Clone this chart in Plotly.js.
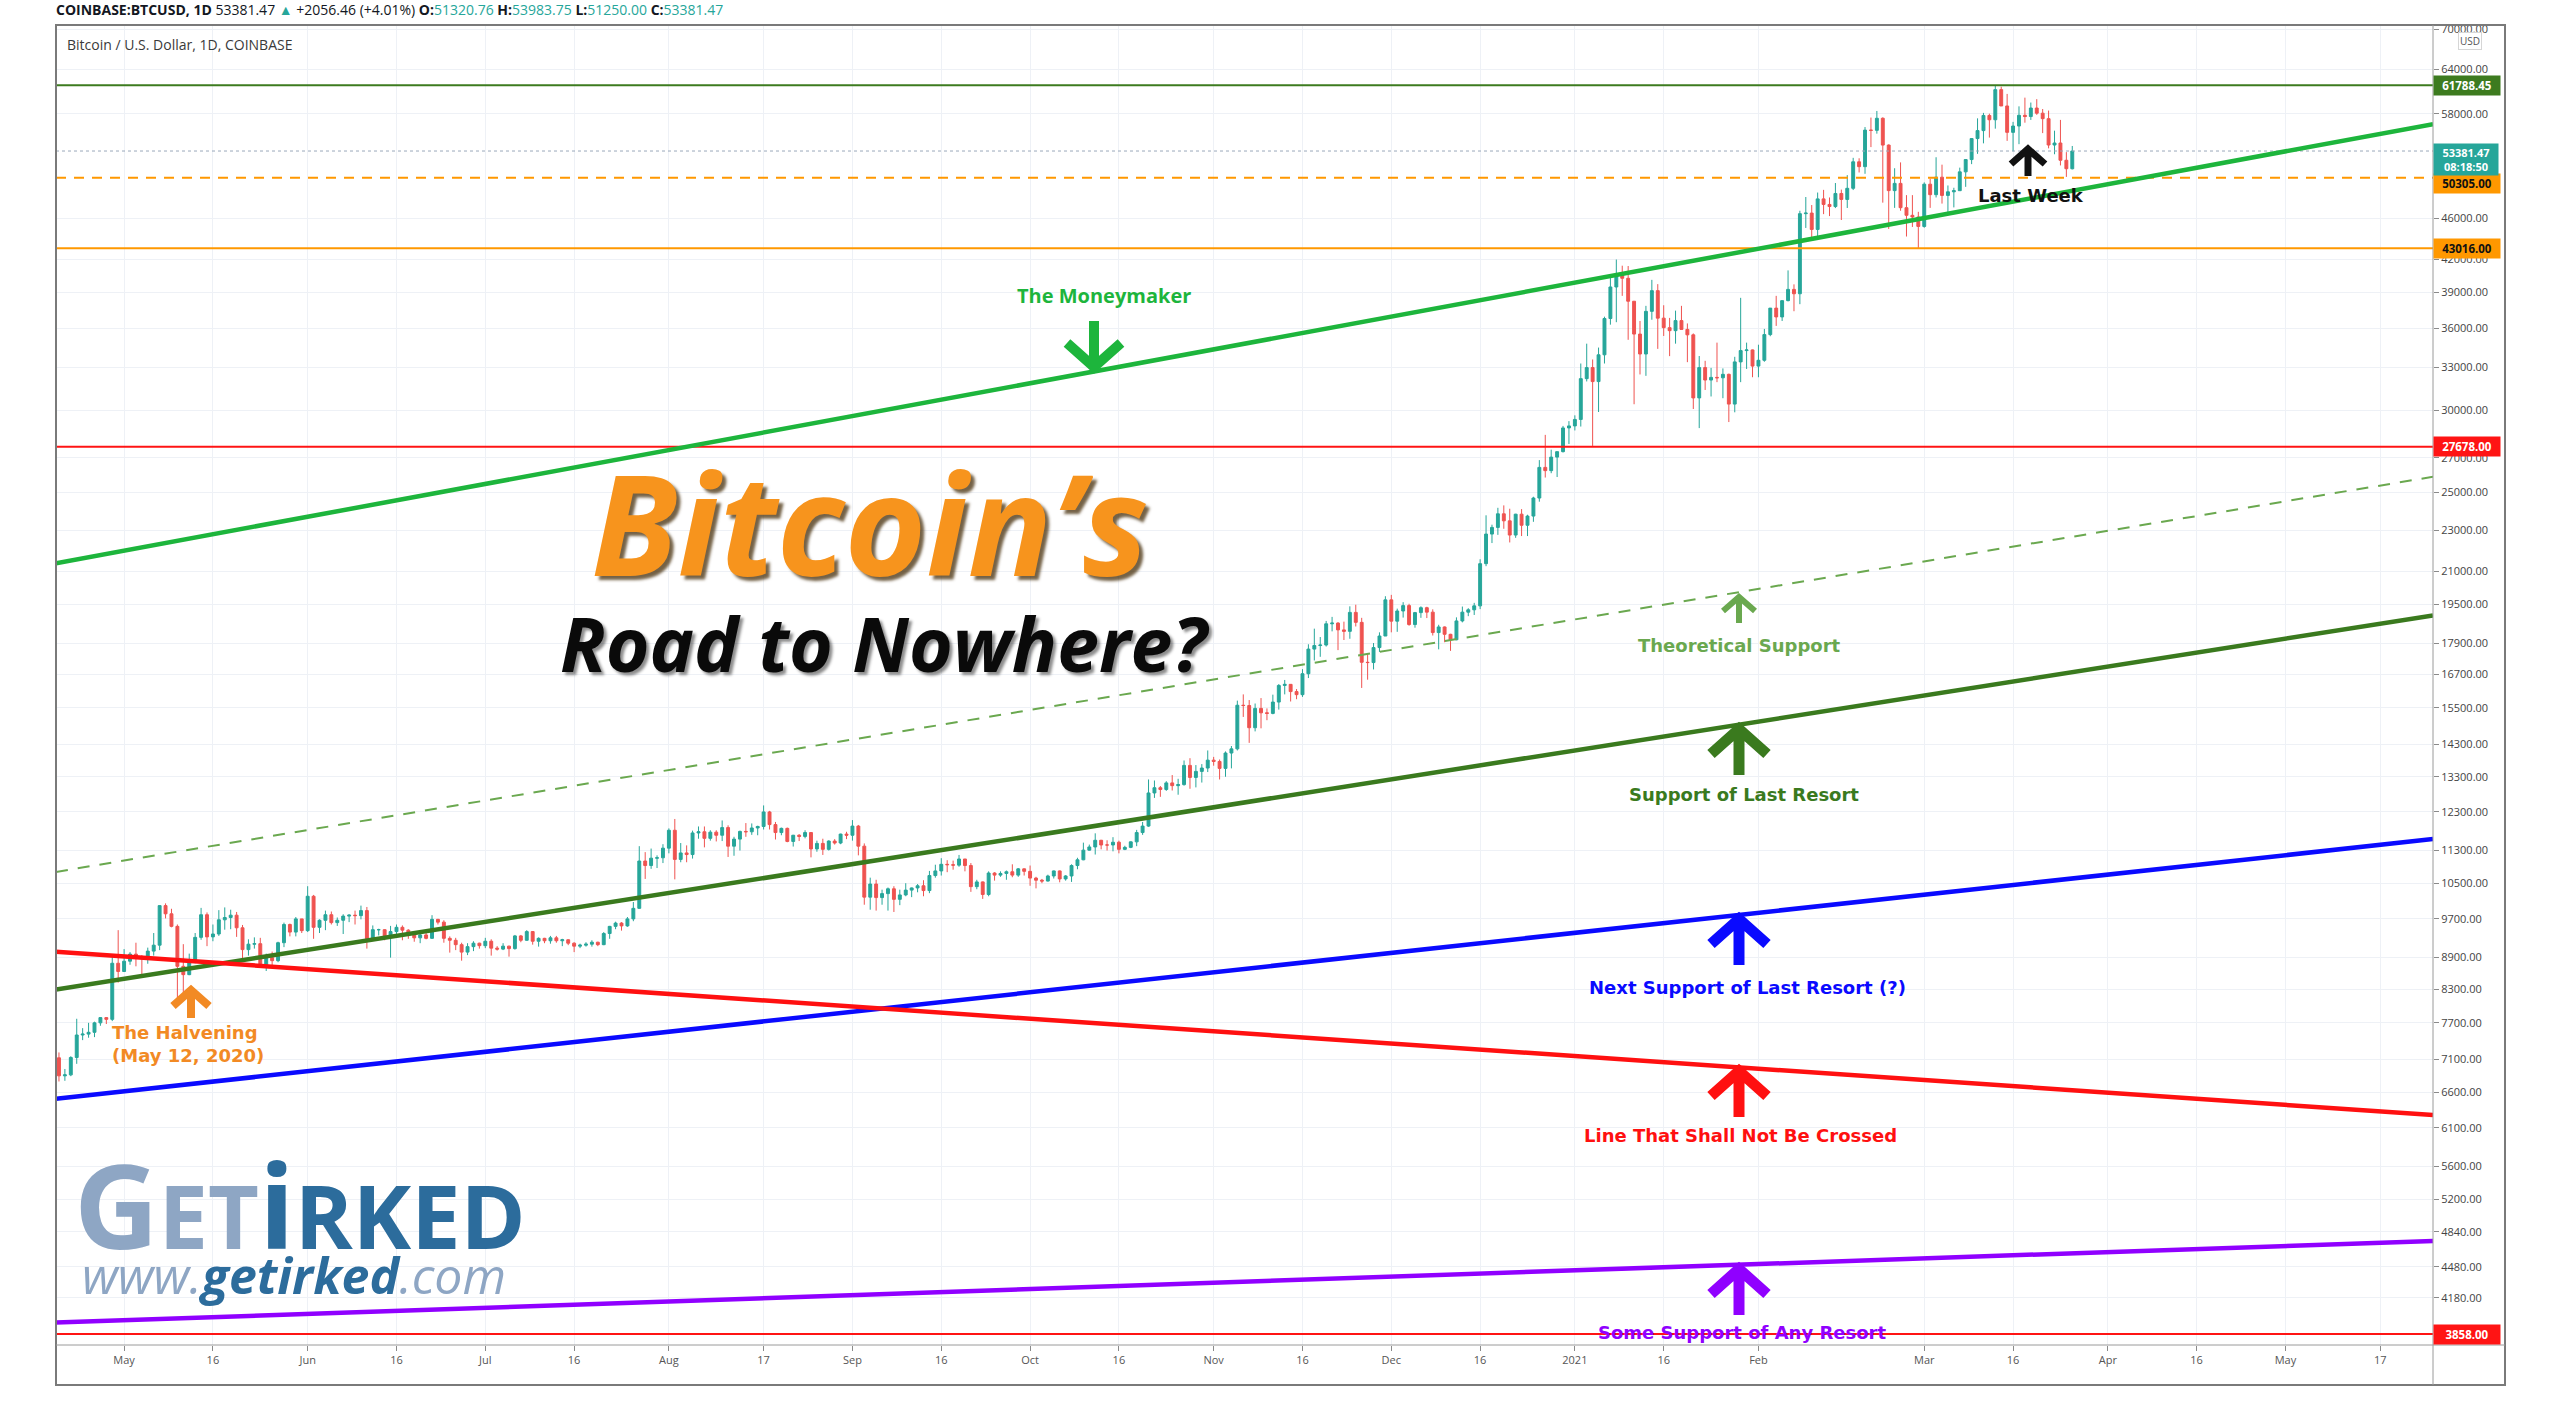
<!DOCTYPE html>
<html>
<head>
<meta charset="utf-8">
<script src="https://cdn.plot.ly/plotly-3.0.1.min.js"></script>
<style>html,body{margin:0;padding:0;background:#fff;overflow:hidden}#chart{width:2560px;height:1409px}</style>
</head>
<body>
<div id="chart"></div>
<script>
// ---------------- DATA ----------------
const firstDay = '2020-04-20';
const opens = [
7125,6845,6860,7130,7495,7510,7540,7700,7790,7760,8790,
8630,8830,8970,8900,8880,9030,9150,9990,9810,9540,8730,8570,8820,9310,9790,9320,9380,9680,9730,9780,9510,9060,9170,9180,8720,8900,8840,9200,9580,9420,9700,
9450,10200,9520,9670,9790,9620,9670,9760,9780,9770,9880,9280,9470,9470,9340,9430,9520,9460,9380,9300,9360,9290,9690,9630,9290,9250,9160,9010,9120,9190,
9140,9230,9090,9070,9130,9080,9340,9250,9430,9230,9290,9240,9300,9240,9260,9190,9130,9150,9170,9210,9160,9390,9540,9610,9550,9700,9930,11030,10920,11100,11110,
11350,11810,11070,11230,11190,11740,11770,11600,11760,11680,11880,11400,11580,11780,11770,11870,11910,12300,11960,11750,11860,11520,11680,11650,11750,11330,11470,11320,11530,11480,11710,
11680,11920,11400,10180,10480,10170,10260,10370,10130,10230,10340,10390,10440,10330,10680,10790,10950,10940,10930,11080,10920,10420,10530,10240,10740,10690,10730,10770,10690,10840,
10780,10620,10570,10550,10670,10790,10600,10670,10920,11060,11300,11380,11550,11430,11430,11500,11320,11370,11510,11750,11920,12830,12980,12930,13120,13040,13070,13640,13280,13460,13560,
13800,13760,13550,14020,14150,15590,15580,14830,15480,15330,15310,15700,16290,16330,16070,15960,16720,17660,17800,17820,18680,18710,18430,18370,19160,18740,17150,17140,17720,18180,
19700,18790,19220,19450,18650,19150,19360,19170,18320,18550,18250,18030,18800,19170,19270,19440,21350,22800,23140,23850,23480,22750,23830,23250,23730,24700,26440,26250,27050,27380,28860,
28990,29410,32200,33000,31990,33950,36800,39470,40630,40240,38240,35550,34010,37390,39150,36830,36060,35820,36630,35920,35490,30850,33000,32100,32290,32260,32510,30430,33420,34270,34320,
33110,33540,35510,37660,36930,38290,39260,38880,46450,46510,44850,48000,47410,47190,48580,47940,49140,52120,51560,55920,55890,57410,54090,48890,49680,47070,46280,46110,
45150,49590,48450,50370,48370,48760,48880,50970,52380,54880,55860,57770,57220,61180,59000,55640,56430,57790,57630,58730,58060,57360,54100,54340,52300,51320.76
];
const highs = [
7210,6950,7150,7770,7610,7700,7720,7800,7800,8950,9460,
9070,9010,9200,8950,9100,9400,9990,10040,9920,9580,9170,8980,9400,9940,9840,9580,9890,9950,9900,9850,9570,9270,9310,9300,8980,9020,9220,9620,9600,9740,9700,
10430,10230,9690,9880,9860,9730,9800,9800,9880,9990,9960,9560,9490,9480,9550,9580,9560,9480,9400,9400,9410,9780,9700,9670,9330,9300,9200,9190,9230,9200,
9300,9270,9130,9190,9140,9360,9360,9460,9440,9310,9300,9340,9340,9280,9270,9210,9180,9210,9250,9220,9420,9550,9640,9630,9740,10070,11400,11250,11340,11170,11450,
11860,12110,11480,11420,11800,11910,11910,11810,11810,12070,11940,11640,11800,12000,11990,11930,12480,12330,12030,11880,11880,11690,11710,11810,11760,11540,11590,11550,11580,11720,11770,
12080,11950,11470,10630,10580,10350,10400,10430,10350,10500,10400,10480,10570,10790,10940,11100,11050,11040,11180,11080,10980,10580,10540,10780,10760,10780,10800,10950,10860,10850,
10920,10650,10600,10700,10800,10800,10690,10950,11110,11490,11440,11730,11560,11550,11630,11540,11410,11520,11820,12030,13220,13190,13030,13170,13350,13240,13790,13860,13650,13680,14100,
13900,13820,14070,14240,15750,15970,15770,15650,15840,15480,15960,16340,16490,16340,16160,16890,17850,18480,18140,18800,18970,18750,18770,19420,19490,18930,17470,17900,18330,19860,
19920,19320,19600,19530,19180,19420,19400,19290,18640,18570,18270,18950,19410,19340,19570,21560,23770,23280,24170,24300,24120,23850,24100,23800,24770,26870,28420,27500,27380,28990,29300,
29680,33300,34800,33600,34500,36950,40370,41950,41380,41350,38240,36600,37850,40100,39720,37900,36850,37450,37850,36400,35600,33860,33500,32980,34880,32940,32560,33800,38530,34880,34350,
34720,35960,37660,38700,38300,40950,39700,46750,48200,47350,48680,48970,48150,49720,49000,50600,52580,52530,56300,57500,58350,57530,54180,51380,52050,48400,48400,46640,
49790,50200,52650,51790,49450,49200,51450,52400,54900,57400,58100,58000,61788.45,61580,60600,56950,58950,60100,59450,59900,58600,58400,55850,57200,53250,53983.75
];
const lows = [
6760,6770,6840,7030,7410,7450,7460,7650,7680,7730,8420,
8620,8760,8730,8540,8780,8940,9050,9710,9520,8120,8200,8560,8790,9260,9130,9230,9340,9470,9480,9320,8820,8940,9080,8700,8640,8700,8810,9110,9330,9330,9400,
9420,9280,9400,9460,9580,9550,9380,9630,9580,9690,9080,9250,9350,9250,8900,9370,9250,9280,9220,9190,9270,9280,9580,9200,9000,9050,8840,8950,9030,9080,
9090,8940,9040,9050,8920,9060,9210,9240,9160,9120,9190,9180,9200,9130,9150,9010,9090,9120,9120,9130,9150,9280,9480,9450,9530,9650,9920,10600,10840,10860,10980,
11220,10590,11000,11000,11090,11590,11370,11540,11520,11530,11130,11160,11290,11640,11690,11680,11830,11830,11570,11680,11500,11390,11530,11600,11120,11260,11180,11290,11440,11450,11580,
11540,11170,10010,9900,9880,10010,9880,9850,10000,10200,10180,10290,10200,10270,10630,10680,10760,10820,10890,10780,10300,10360,10140,10200,10560,10650,10580,10640,10650,10680,
10440,10380,10500,10540,10610,10520,10560,10530,10830,11050,11290,11190,11320,11290,11270,11220,11300,11350,11400,11690,11900,12690,12720,12890,12900,12780,13040,12950,12990,13130,13440,
13630,13220,13300,13550,14100,15190,14340,14710,14810,15080,15280,15440,15970,15720,15800,15880,16560,17220,17360,17760,18370,17620,18020,18070,18570,16200,16500,16880,17550,18180,
18330,18350,18940,18600,18520,18930,18920,18200,17650,17930,17590,18010,18740,19000,19050,19300,21230,22350,22760,23070,22380,22610,22700,22700,23430,24500,25850,26100,25880,27330,27850,
28700,28950,32000,27730,29900,33300,36300,36500,38700,35100,30420,32500,32400,36700,34400,35400,33850,34800,35900,33400,30100,28850,31400,30950,31950,30830,29240,29880,31950,32900,32300,
32300,33430,35380,36200,36600,38230,37400,37990,45000,43750,44000,46400,46200,47030,45800,47040,48950,50900,50750,53850,55480,47600,44900,47050,46750,44150,45100,43000,
45020,47050,48150,47500,46300,47100,48880,49300,51850,53050,54300,55000,56100,59000,54600,53350,54200,56850,57200,57850,55550,53700,53000,51700,50400,51250
];
const closes = [
6845,6860,7130,7495,7510,7540,7700,7790,7760,8790,8630,
8830,8970,8900,8880,9030,9150,9990,9810,9540,8730,8570,8820,9310,9790,9320,9380,9680,9730,9780,9510,9060,9170,9180,8720,8900,8840,9200,9580,9420,9700,9450,
10200,9520,9670,9790,9620,9670,9760,9780,9770,9880,9280,9470,9470,9340,9430,9520,9460,9380,9300,9360,9290,9690,9630,9290,9250,9160,9010,9120,9190,9140,
9230,9090,9070,9130,9080,9340,9250,9430,9230,9290,9240,9300,9240,9260,9190,9130,9150,9170,9210,9160,9390,9540,9610,9550,9700,9930,11030,10920,11100,11110,11350,
11810,11070,11230,11190,11740,11770,11600,11760,11680,11880,11400,11580,11780,11770,11870,11910,12300,11960,11750,11860,11520,11680,11650,11750,11330,11470,11320,11530,11480,11710,11680,
11920,11400,10180,10480,10170,10260,10370,10130,10230,10340,10390,10440,10330,10680,10790,10950,10940,10930,11080,10920,10420,10530,10240,10740,10690,10730,10770,10690,10840,10780,
10620,10570,10550,10670,10790,10600,10670,10920,11060,11300,11380,11550,11430,11430,11500,11320,11370,11510,11750,11920,12830,12980,12930,13120,13040,13070,13640,13280,13460,13560,13800,
13760,13550,14020,14150,15590,15580,14830,15480,15330,15310,15700,16290,16330,16070,15960,16720,17660,17800,17820,18680,18710,18430,18370,19160,18740,17150,17140,17720,18180,19700,
18790,19220,19450,18650,19150,19360,19170,18320,18550,18250,18030,18800,19170,19270,19440,21350,22800,23140,23850,23480,22750,23830,23250,23730,24700,26440,26250,27050,27380,28860,28990,
29410,32200,33000,31990,33950,36800,39470,40630,40240,38240,35550,34010,37390,39150,36830,36060,35820,36630,35920,35490,30850,33000,32100,32290,32260,32510,30430,33420,34270,34320,33110,
33540,35510,37660,36930,38290,39260,38880,46450,46510,44850,48000,47410,47190,48580,47940,49140,52120,51560,55920,55890,57410,54090,48890,49680,47070,46280,46110,45150,
49590,48450,50370,48370,48760,48880,50970,52380,54880,55860,57770,57220,61180,59000,55640,56430,57790,57630,58730,58060,57360,54100,54340,52300,51325,53381.47
];

// Trend lines (price where each line meets the left and right edges of the chart)
const trendNames  = ['The Moneymaker','Support of Last Resort','Theoretical Support','Next Support of Last Resort (?)','Line That Shall Not Be Crossed','Some Support of Any Resort'];
const trendLeft   = [21370, 8293, 10767, 6506, 9015, 3958];
const trendRight  = [56670, 19031, 25894, 11581, 6275, 4744];
// Horizontal price levels
const levelPrices = [61788.45, 50305.00, 43016.00, 27678.00, 3858.00];
const lastPrice = 53381.47;

// Axis ticks
const xTickVals = ['2020-05-01','2020-05-16','2020-06-01','2020-06-16','2020-07-01','2020-07-16','2020-08-01','2020-08-17','2020-09-01','2020-09-16','2020-10-01','2020-10-16','2020-11-01','2020-11-16','2020-12-01','2020-12-16','2021-01-01','2021-01-16','2021-02-01','2021-03-01','2021-03-16','2021-04-01','2021-04-16','2021-05-01','2021-05-17'];
const xTickText = ['May','16','Jun','16','Jul','16','Aug','17','Sep','16','Oct','16','Nov','16','Dec','16','2021','16','Feb','Mar','16','Apr','16','May','17'];
const yTickVals = [70000,64000,58000,46000,42000,39000,36000,33000,30000,27000,25000,23000,21000,19500,17900,16700,15500,14300,13300,12300,11300,10500,9700,8900,8300,7700,7100,6600,6100,5600,5200,4840,4480,4180];

// ---------------- BUILD ----------------
const dates = [];
{
  const d0 = new Date(firstDay + 'T00:00:00Z');
  for (let i = 0; i < closes.length; i++) {
    const d = new Date(d0.getTime() + i * 86400000);
    dates.push(d.toISOString().slice(0, 10));
  }
}
const X0 = '2020-04-19 12:00', X1 = '2021-05-25 22:00';

// pixel -> paper helpers (plot area 56..2433 x 25..1345)
const PL = 56, PR = 2433, PT = 25, PB = 1345;
const px = x => (x - PL) / (PR - PL);
const py = y => (PB - y) / (PB - PT);

const traces = [];
traces.push({
  type: 'candlestick', x: dates, open: opens, high: highs, low: lows, close: closes,
  increasing: {line: {color: '#26a69a', width: 1}, fillcolor: '#26a69a'},
  decreasing: {line: {color: '#ef5350', width: 1}, fillcolor: '#ef5350'},
  whiskerwidth: 0, hoverinfo: 'skip', showlegend: false
});
// last price dotted line
traces.push({type:'scatter', mode:'lines', x:[X0,X1], y:[lastPrice,lastPrice], line:{color:'#9aa9ba', width:1, dash:'dot'}, hoverinfo:'skip'});
// horizontal levels
const levelStyles = [
  {color:'#3d7b1f', width:2},
  {color:'#ff9800', width:2, dash:'10px,8px'},
  {color:'#ff9800', width:2},
  {color:'#ff1414', width:2},
  {color:'#ff1414', width:2}
];
levelPrices.forEach((p, i) => traces.push({type:'scatter', mode:'lines', x:[X0,X1], y:[p,p], line:levelStyles[i], hoverinfo:'skip'}));
// trend lines
const trendStyles = [
  {color:'#1db53c', width:4.5},
  {color:'#3a7a1e', width:4.5},
  {color:'#6aa84f', width:2, dash:'12px,10px'},
  {color:'#0a0aff', width:4.5},
  {color:'#ff1010', width:4.5},
  {color:'#9000ff', width:4.5}
];
trendNames.forEach((n, i) => traces.push({type:'scatter', mode:'lines', name:n, x:[X0,X1], y:[trendLeft[i], trendRight[i]], line:trendStyles[i], hoverinfo:'skip'}));

// ---------------- DECORATION ----------------
const shapes = [
  {type:'rect', xref:'paper', yref:'paper', x0:px(56), x1:px(2505), y0:py(1385), y1:py(25), line:{color:'#7a7a7a', width:2}, fillcolor:'rgba(0,0,0,0)', layer:'above'},
  {type:'line', xref:'paper', yref:'paper', x0:px(2433), x1:px(2433), y0:py(1385), y1:py(25), line:{color:'#9a9a9a', width:1}, layer:'above'},
  {type:'line', xref:'paper', yref:'paper', x0:px(56), x1:px(2505), y0:py(1345), y1:py(1345), line:{color:'#9a9a9a', width:1}, layer:'above'}
];
function arrow(xc, tip, len, span, headH, w, color, down) {
  const s = down ? -1 : 1;
  const L = xc - span / 2, R = xc + span / 2;
  const path = 'M' + px(L) + ',' + py(tip + s * headH) + ' L' + px(xc) + ',' + py(tip) + ' L' + px(R) + ',' + py(tip + s * headH) +
               ' M' + px(xc) + ',' + py(tip + s * w * 0.6) + ' L' + px(xc) + ',' + py(tip + s * len);
  shapes.push({type:'path', xref:'paper', yref:'paper', path:path, line:{color:color, width:w}, layer:'above'});
}
arrow(1094, 367, 46, 54, 24, 10, '#1db53c', true);   // Moneymaker (down)
arrow(1739, 597, 26, 32, 14, 6, '#6aa84f');          // Theoretical
arrow(1739, 729, 46, 56, 25, 11, '#3a7a1e');          // Support of Last Resort
arrow(1739, 919, 46, 56, 25, 11, '#0a0aff');          // Next Support
arrow(1739, 1071, 46, 56, 25, 11, '#ff1010');         // Line not crossed
arrow(1739, 1269, 46, 56, 25, 11, '#9000ff');         // Some support
arrow(191, 990, 28, 36, 16, 8, '#f28a24');            // Halvening
arrow(2028, 149, 27, 34, 15, 7, '#111111');           // Last week

const annotations = [];
function txt(x, y, text, font, extra) {
  annotations.push(Object.assign({xref:'paper', yref:'paper', x:px(x), y:py(y), text:text, showarrow:false, xanchor:'center', yanchor:'middle', font:font}, extra || {}));
}
const lab = (size, color) => ({family:'DejaVu Sans, Verdana, sans-serif', size:size, color:color, weight:'bold'});
txt(1104, 295, 'The Moneymaker', {family:'Open Sans, sans-serif', size:20, color:'#1db53c', weight:'bold'});
txt(1739, 645, 'Theoretical Support', lab(18, '#6aa84f'));
txt(1744, 795, 'Support of Last Resort', lab(18, '#3a7a1e'));
txt(1747, 988, 'Next Support of Last Resort (?)', lab(18, '#0a0aff'));
txt(1740, 1135, 'Line That Shall Not Be Crossed', lab(18, '#ff1010'));
txt(1742, 1332, 'Some Support of Any Resort', lab(18, '#9000ff'));
txt(110, 1044, 'The Halvening<br>(May 12, 2020)', lab(18, '#f28a24'), {xanchor:'left', align:'left'});
txt(2031, 196, 'Last Week', lab(18, '#111111'));

// Title
txt(870, 521, 'Bitcoin’s', {family:'Open Sans, sans-serif', size:140, color:'#f7941d', weight:'bold', style:'italic', shadow:'4px 4px 3px rgba(70,45,10,0.75)'});
txt(884, 643, 'Road to Nowhere?', {family:'Open Sans, sans-serif', size:75, color:'#0a0a0a', weight:'bold', style:'italic', shadow:'3px 3px 3px rgba(0,0,0,0.45)'});

// Logo
txt(72, 1203, "<span style='color:#8ea6c4'>G<span style='font-size:88px'>ET</span></span><span style='color:#2c6c9c'>i<span style='font-size:88px'>RKED</span></span>",
    {family:'Open Sans, sans-serif', size:117, weight:'bold', color:'#2c6c9c'}, {xanchor:'left'});
txt(80, 1275, "<span style='color:#8ea6c4'>www.</span><b><span style='color:#2c6c9c'>getirked</span></b><span style='color:#8ea6c4'>.com</span>",
    {family:'Open Sans, sans-serif', size:50, style:'italic', color:'#8ea6c4'}, {xanchor:'left'});

// Header and legend text
const teal = '#26a69a';
txt(54, 10, "<b>COINBASE:BTCUSD, 1D</b> 53381.47 <span style='color:" + teal + "'>▲</span> +2056.46 (+4.01%) <b>O:</b><span style='color:" + teal + "'>51320.76</span> <b>H:</b><span style='color:" + teal + "'>53983.75</span> <b>L:</b><span style='color:" + teal + "'>51250.00</span> <b>C:</b><span style='color:" + teal + "'>53381.47</span>",
    {family:'Open Sans, sans-serif', size:14, color:'#131722'}, {xanchor:'left'});
txt(65, 45, 'Bitcoin / U.S. Dollar, 1D, COINBASE', {family:'Open Sans, sans-serif', size:14, color:'#3a3a3a'}, {xanchor:'left'});

// Price axis badges
function badge(val, text, bg, fg, extra) {
  annotations.push(Object.assign({xref:'paper', yref:'y', x:1, y:Math.log10(val), xanchor:'left', yanchor:'middle', text:text, showarrow:false,
    bgcolor:bg, borderpad:2, width:62, align:'center', font:{family:'Open Sans, sans-serif', size:11.5, color:fg, weight:'bold'}}, extra || {}));
}
badge(levelPrices[0], '61788.45', '#3d7b1f', '#ffffff');
badge(levelPrices[1], '50305.00', '#ff9800', '#111111', {yshift:-6});
badge(lastPrice, '53381.47<br>08:18:50', '#26a69a', '#ffffff', {yanchor:'top', yshift:8, borderpad:1, font:{family:'Open Sans, sans-serif', size:11, color:'#ffffff', weight:'bold'}});
badge(levelPrices[2], '43016.00', '#ff9800', '#111111');
badge(levelPrices[3], '27678.00', '#ff1414', '#ffffff');
badge(levelPrices[4], '3858.00', '#ff1414', '#ffffff');
txt(2470, 41, 'USD', {family:'Open Sans, sans-serif', size:10, color:'#555'}, {bordercolor:'#d6d6d6', borderwidth:1, bgcolor:'#ffffff', borderpad:1});

const layout = {
  width: 2560, height: 1409,
  margin: {l: PL, r: 2560 - PR, t: PT, b: 1409 - PB, pad: 0},
  paper_bgcolor: '#ffffff', plot_bgcolor: '#ffffff',
  showlegend: false, hovermode: false,
  xaxis: {
    type: 'date', range: [X0, X1], tickvals: xTickVals, ticktext: xTickText,
    ticks: 'outside', ticklen: 5, tickcolor: '#8a8a8a', showgrid: true, gridcolor: '#eef1f6', gridwidth: 1,
    showline: false, zeroline: false, rangeslider: {visible: false}, fixedrange: true,
    tickfont: {family: 'Open Sans, sans-serif', size: 11, color: '#555'}
  },
  yaxis: {
    type: 'log', side: 'right', range: [Math.log10(3765), Math.log10(70624)],
    tickvals: yTickVals, ticktext: yTickVals.map(v => v.toFixed(2)),
    ticks: 'outside', ticklen: 5, tickcolor: '#8a8a8a', showgrid: true, gridcolor: '#eef1f6', gridwidth: 1,
    showline: false, zeroline: false, fixedrange: true,
    tickfont: {family: 'Open Sans, sans-serif', size: 11, color: '#444'}
  },
  shapes: shapes,
  annotations: annotations
};
Plotly.newPlot('chart', traces, layout, {displayModeBar: false, staticPlot: true});
</script>
</body>
</html>
